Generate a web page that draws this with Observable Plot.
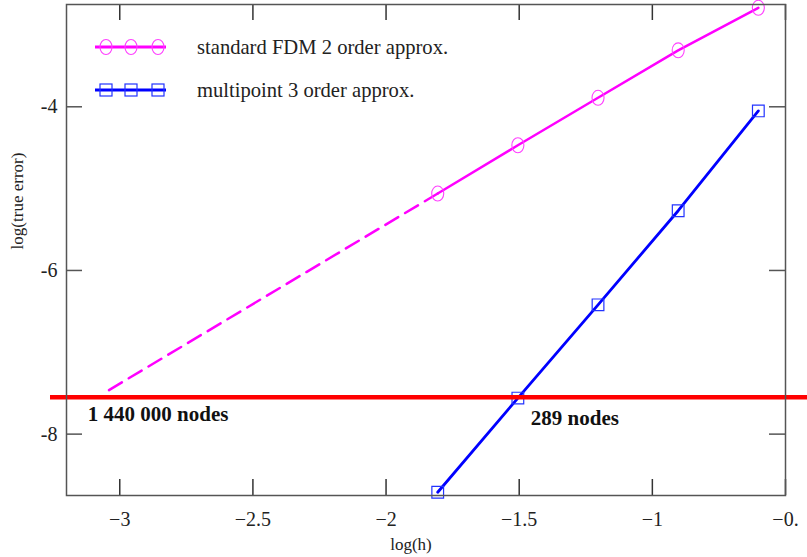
<!DOCTYPE html>
<html>
<head>
<meta charset="utf-8">
<script src="https://cdn.jsdelivr.net/npm/d3@7"></script>
<script src="https://cdn.jsdelivr.net/npm/@observablehq/plot@0.6"></script>
<style>
  body { margin: 0; background: #fff; }
  #chart { position: relative; width: 807px; height: 557px; }
  #legend { position: absolute; left: 0; top: 0; }
</style>
</head>
<body>
<div id="chart"></div>
<script>
// log10 of the mesh step h = 1/4 ... 1/64
const logH = [-1.806, -1.505, -1.204, -0.903, -0.602];
// log10 of the true error for each scheme
const fdmError = [-5.06, -4.47, -3.89, -3.31, -2.79];
const multipointError = [-8.71, -7.56, -6.42, -5.27, -4.05];
// extrapolated second-order trend down to the target accuracy
const extrapLogH = [-1.806, -3.06];
const extrapError = [-5.06, -7.50];
// target accuracy level
const targetError = -7.55;
const xTicks = [-3, -2.5, -2, -1.5, -1, -0.5];
const xTickLabels = ["\u22123", "\u22122.5", "\u22122", "\u22121.5", "\u22121", "\u22120."];
const yTicks = [-4, -6, -8];
const yTickLabels = ["-4", "-6", "-8"];
const seriesNames = ["standard FDM 2 order approx.", "multipoint 3 order approx."];
const nodeLabels = ["1 440 000 nodes", "289 nodes"];

const W = 807, H = 557;
const M = {top: 4, right: 22, bottom: 62, left: 66};
const frameW = W - M.left - M.right;
const frameH = H - M.top - M.bottom;
const tickLen = 16;
const axisColor = "#555";
const magenta = "#ff00ff", blue = "#0000ff";
const serif = "'Liberation Serif', 'Times New Roman', serif";

const fdm = logH.map((x, i) => ({x, y: fdmError[i]}));
const multi = logH.map((x, i) => ({x, y: multipointError[i]}));
const extrap = extrapLogH.map((x, i) => ({x, y: extrapError[i]}));

// slightly tall ellipse marker
const ellipse = {
  draw(ctx, size) {
    const r = Math.sqrt(size / Math.PI), rx = r * 0.86, ry = r * 1.07, k = 0.5523;
    ctx.moveTo(rx, 0);
    ctx.bezierCurveTo(rx, ry * k, rx * k, ry, 0, ry);
    ctx.bezierCurveTo(-rx * k, ry, -rx, ry * k, -rx, 0);
    ctx.bezierCurveTo(-rx, -ry * k, -rx * k, -ry, 0, -ry);
    ctx.bezierCurveTo(rx * k, -ry, rx, -ry * k, rx, 0);
    ctx.closePath();
  }
};

const chart = Plot.plot({
  width: W,
  height: H,
  marginTop: M.top,
  marginRight: M.right,
  marginBottom: M.bottom,
  marginLeft: M.left,
  style: {fontFamily: serif, fontSize: "20px", color: "#222", background: "#fff"},
  x: {domain: [-3.2, -0.5]},
  y: {domain: [-8.75, -2.75]},
  marks: [
    // inward ticks on all four sides
    Plot.ruleX(xTicks, {x: d => d, stroke: "#333", strokeWidth: 1.5, insetTop: frameH - tickLen}),
    Plot.ruleX(xTicks, {x: d => d, stroke: "#333", strokeWidth: 1.5, insetBottom: frameH - tickLen}),
    Plot.ruleY(yTicks, {y: d => d, stroke: "#555", strokeWidth: 1.5, insetRight: frameW - tickLen}),
    Plot.ruleY(yTicks, {y: d => d, stroke: "#555", strokeWidth: 1.5, insetLeft: frameW - tickLen}),
    Plot.axisX({ticks: xTicks, tickSize: 0, tickPadding: 16, tickFormat: d => xTickLabels[xTicks.indexOf(d)], label: null}),
    Plot.axisY({ticks: yTicks, tickSize: 0, tickPadding: 9, tickFormat: d => yTickLabels[yTicks.indexOf(d)], label: null}),
    Plot.text(["log(h)"], {frameAnchor: "bottom", dx: -15, dy: 54, fontSize: 17, fill: "#222"}),
    Plot.text(["log(true error)"], {frameAnchor: "left", textAnchor: "middle", rotate: -90, dx: -49, dy: -49, fontSize: 17, fill: "#222"}),
    // second-order scheme and its extrapolation
    Plot.line(extrap, {x: "x", y: "y", stroke: magenta, strokeWidth: 2.5, strokeDasharray: "15,8"}),
    Plot.line(fdm, {x: "x", y: "y", stroke: magenta, strokeWidth: 2.5}),
    Plot.dot(fdm, {x: "x", y: "y", symbol: ellipse, r: 7, stroke: "#ff40ff", strokeWidth: 1.1, fill: "none"}),
    // third-order multipoint scheme
    Plot.line(multi, {x: "x", y: "y", stroke: blue, strokeWidth: 2.8, clip: true}),
    Plot.dot(multi, {x: "x", y: "y", symbol: "square", r: 6.6, stroke: "#2233ff", strokeWidth: 1.2, fill: "none"}),
    // target accuracy
    Plot.ruleY([targetError], {y: d => d, stroke: "#ff0000", strokeWidth: 4.5, insetLeft: -16, insetRight: -22}),
    Plot.text([{x: extrapLogH[1], y: targetError, t: nodeLabels[0]}], {x: "x", y: "y", text: "t", textAnchor: "start", dx: -16, dy: 17, fontSize: 21, fontWeight: "bold", fill: "#111"}),
    Plot.text([{x: logH[1], y: targetError, t: nodeLabels[1]}], {x: "x", y: "y", text: "t", textAnchor: "start", dx: 13, dy: 21, fontSize: 21, fontWeight: "bold", fill: "#111"}),
    Plot.frame({stroke: axisColor, strokeWidth: 1.5})
  ]
});
document.getElementById("chart").appendChild(chart);

// legend drawn over the plot area
const legend = d3.select("#chart").append("svg")
  .attr("id", "legend").attr("width", W).attr("height", 120);
const entries = [
  {name: seriesNames[0], color: magenta, marker: "#ff40ff", kind: "ellipse", y: 47},
  {name: seriesNames[1], color: blue, marker: "#2233ff", kind: "square", y: 90}
];
const markerX = [106, 131, 158];
entries.forEach(e => {
  const g = legend.append("g");
  g.append("line").attr("x1", 95).attr("x2", 166).attr("y1", e.y).attr("y2", e.y)
    .attr("stroke", e.color).attr("stroke-width", 2.8);
  markerX.forEach(mx => {
    if (e.kind === "ellipse") {
      g.append("ellipse").attr("cx", mx).attr("cy", e.y).attr("rx", 6).attr("ry", 7.5)
        .attr("fill", "none").attr("stroke", e.marker).attr("stroke-width", 1.1);
    } else {
      g.append("rect").attr("x", mx - 6).attr("y", e.y - 6).attr("width", 12).attr("height", 12)
        .attr("fill", "none").attr("stroke", e.marker).attr("stroke-width", 1.2);
    }
  });
  g.append("text").attr("x", 197).attr("y", e.y).attr("dy", "0.32em")
    .attr("font-family", serif).attr("font-size", 20.6)
    .attr("fill", "#222").text(e.name);
});
</script>
</body>
</html>
